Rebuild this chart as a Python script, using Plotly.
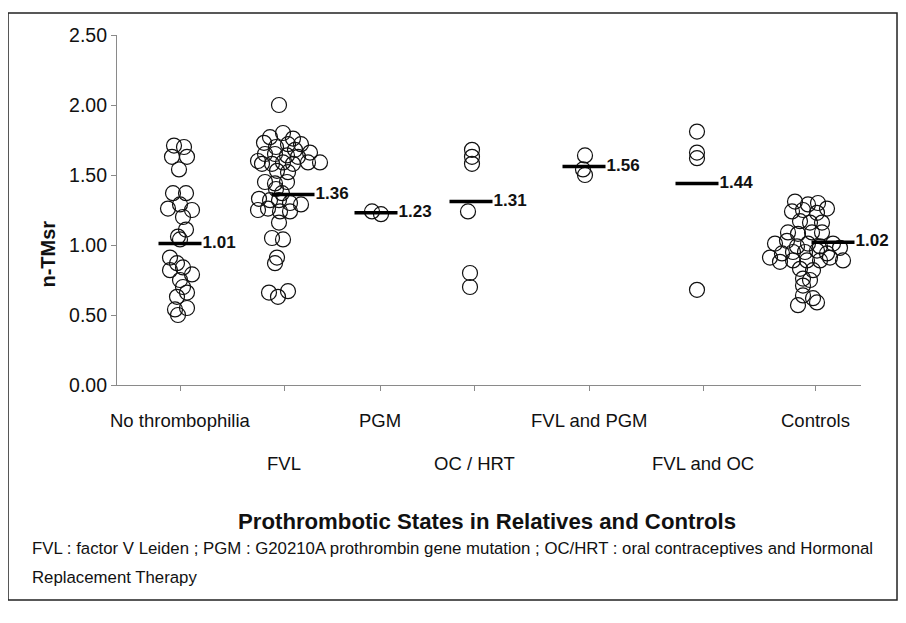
import plotly.graph_objects as go

# ---------------- data ----------------
categories = ["No thrombophilia", "FVL", "PGM", "OC / HRT", "FVL and PGM", "FVL and OC", "Controls"]
cat_x = [0.99, 2.04, 2.95, 3.90, 5.03, 6.16, 7.24]          # cluster centres
label_x = [0.99, 2.03, 2.99, 3.93, 5.08, 6.22, 7.34]        # category label / tick centres
means = [1.01, 1.36, 1.23, 1.31, 1.56, 1.44, 1.02]
mean_dx = [0.0, 0.08, 0.0, 0.0, 0.0, 0.0, 0.28]

no_thromb_y = [1.71, 1.70, 1.63, 1.63, 1.54, 1.37, 1.37, 1.26, 1.29, 1.25, 1.20, 1.11, 1.06,
               1.04, 0.91, 0.87, 0.82, 0.84, 0.79, 0.75, 0.70, 0.63, 0.66, 0.54, 0.55, 0.50]
no_thromb_dx = [-0.06, 0.04, -0.08, 0.07, -0.01, -0.07, 0.06, -0.12, 0.0, 0.12, 0.03, 0.06, -0.02,
                0.0, -0.10, -0.03, -0.10, 0.03, 0.12, 0.0, 0.03, -0.03, 0.07, -0.05, 0.07, -0.02]

fvl_y = [2.00, 1.80, 1.77, 1.76, 1.73, 1.72, 1.72, 1.70, 1.68, 1.66, 1.65, 1.65, 1.64, 1.63,
         1.60, 1.58, 1.58, 1.59, 1.58, 1.59, 1.59, 1.53, 1.52, 1.45, 1.44, 1.45, 1.40, 1.37,
         1.33, 1.32, 1.32, 1.30, 1.29, 1.25, 1.26, 1.24, 1.24, 1.16, 1.05, 1.04, 0.91, 0.87,
         0.66, 0.63, 0.67]
fvl_dx = [-0.06, -0.02, -0.15, 0.08, -0.21, 0.03, 0.16, -0.09, 0.10, 0.25, -0.20, -0.10, 0.02, 0.13,
          -0.27, -0.23, -0.13, -0.02, 0.08, 0.23, 0.35, -0.08, 0.03, -0.20, -0.10, 0.02, -0.09, -0.03,
          -0.26, -0.15, -0.06, 0.05, 0.16, -0.27, -0.17, -0.05, 0.05, -0.06, -0.13, -0.02, -0.08, -0.10,
          -0.16, -0.07, 0.03]

pgm_y = [1.24, 1.22]
pgm_dx = [-0.04, 0.05]

oc_y = [1.68, 1.63, 1.58, 1.24, 0.80, 0.70]
oc_dx = [0.01, 0.01, 0.01, -0.03, -0.01, -0.01]

fvl_pgm_y = [1.64, 1.54, 1.50]
fvl_pgm_dx = [0.01, -0.01, 0.01]

fvl_oc_y = [1.81, 1.66, 1.62, 0.68]
fvl_oc_dx = [0.0, 0.0, 0.0, 0.0]

controls_y = [1.31, 1.29, 1.30, 1.24, 1.25, 1.23, 1.26, 1.17, 1.16, 1.16, 1.09, 1.08, 1.09, 1.09,
              1.01, 1.03, 0.99, 1.01, 0.99, 1.01, 0.98, 0.94, 0.95, 0.95, 0.96, 0.94,
              0.91, 0.88, 0.89, 0.89, 0.89, 0.91, 0.89, 0.83, 0.82, 0.76, 0.75, 0.71,
              0.64, 0.62, 0.57, 0.59]
controls_dx = [-0.10, 0.03, 0.13, -0.13, -0.02, 0.12, 0.22, -0.05, 0.05, 0.17, -0.17, -0.07, 0.07, 0.17,
               -0.30, -0.18, -0.08, 0.03, 0.15, 0.28, 0.35, -0.23, -0.12, 0.0, 0.12, 0.22,
               -0.35, -0.25, -0.12, 0.02, 0.15, 0.25, 0.38, -0.05, 0.08, -0.02, 0.05, -0.02,
               -0.02, 0.08, -0.07, 0.12]

groups_y = [no_thromb_y, fvl_y, pgm_y, oc_y, fvl_pgm_y, fvl_oc_y, controls_y]
groups_dx = [no_thromb_dx, fvl_dx, pgm_dx, oc_dx, fvl_pgm_dx, fvl_oc_dx, controls_dx]

y_ticks = [0.0, 0.5, 1.0, 1.5, 2.0, 2.5]
x_title = "Prothrombotic States in Relatives and Controls"
y_title = "n-TMsr"
footnote_1 = "FVL : factor V Leiden ; PGM : G20210A prothrombin gene mutation ; OC/HRT : oral contraceptives and Hormonal"
footnote_2 = "Replacement Therapy"

FONT = "Liberation Sans, Arial, sans-serif"
HALF = 0.215

fig = go.Figure()

for name, cx, ys, dxs in zip(categories, cat_x, groups_y, groups_dx):
    fig.add_trace(go.Scatter(
        x=[cx + d for d in dxs], y=ys, mode="markers", name=name,
        marker=dict(symbol="circle-open", size=15, color="#111111", line=dict(width=1.2)),
        showlegend=False, hoverinfo="y"))

mx, my = [], []
for cx, d, m in zip(cat_x, mean_dx, means):
    mx += [cx + d - HALF, cx + d + HALF, None]
    my += [m, m, None]
fig.add_trace(go.Scatter(x=mx, y=my, mode="lines", line=dict(color="#000000", width=3.5),
                         showlegend=False, hoverinfo="skip"))

# mean value labels, just right of each mean line
fig.add_trace(go.Scatter(
    x=[cx + d + HALF + 0.01 for cx, d in zip(cat_x, mean_dx)], y=means, mode="text",
    text=["<b>%.2f</b>" % m for m in means], textposition="middle right",
    textfont=dict(family=FONT, size=17, color="#111111"), cliponaxis=False,
    showlegend=False, hoverinfo="skip"))

annotations = []
for i, (lx, label) in enumerate(zip(label_x, categories)):
    annotations.append(dict(x=lx, y=(-0.10 if i % 2 == 0 else -0.225), xref="x", yref="paper",
                            text=label, showarrow=False, xanchor="center", yanchor="middle",
                            font=dict(family=FONT, size=18.5, color="#111111")))

annotations.append(dict(x=0.497, y=-0.391, xref="paper", yref="paper", text="<b>%s</b>" % x_title,
                        showarrow=False, xanchor="center", yanchor="middle",
                        font=dict(family=FONT, size=22.2, color="#111111")))
annotations.append(dict(x=-0.093, y=0.375, xref="paper", yref="paper", text="<b>%s</b>" % y_title,
                        showarrow=False, textangle=-90, xanchor="center", yanchor="middle",
                        font=dict(family=FONT, size=20, color="#111111")))
annotations.append(dict(x=-0.117, y=-0.466, xref="paper", yref="paper", text=footnote_1,
                        showarrow=False, xanchor="left", yanchor="middle",
                        font=dict(family=FONT, size=16.8, color="#111111")))
annotations.append(dict(x=-0.117, y=-0.549, xref="paper", yref="paper", text=footnote_2,
                        showarrow=False, xanchor="left", yanchor="middle",
                        font=dict(family=FONT, size=16.8, color="#111111")))

# page body has an 8px margin, so the figure is offset by 8px; margins compensate
fig.update_layout(
    width=906, height=623,
    margin=dict(l=109, r=53, t=27, b=246),
    paper_bgcolor="white", plot_bgcolor="white",
    font=dict(family=FONT, color="#111111"),
    annotations=annotations,
    shapes=[dict(type="rect", xref="paper", yref="paper", x0=-0.1465, x1=1.0484, y0=-0.614, y1=1.063,
                 line=dict(color="#222222", width=1.5), fillcolor="rgba(0,0,0,0)", layer="below")],
    xaxis=dict(range=[0.36, 7.80], showline=True, linecolor="#8a8a8a", linewidth=1.2,
               ticks="outside", ticklen=5, tickcolor="#8a8a8a", tickvals=label_x,
               showticklabels=False, showgrid=False, zeroline=False, fixedrange=True),
    yaxis=dict(range=[0, 2.5], tickvals=y_ticks, tickformat=".2f", showline=True,
               linecolor="#8a8a8a", linewidth=1.2, ticks="outside", ticklen=5, tickcolor="#8a8a8a",
               showgrid=False, zeroline=False, tickfont=dict(family=FONT, size=19.5, color="#111111"),
               fixedrange=True),
)

fig.write_html("out.html")
